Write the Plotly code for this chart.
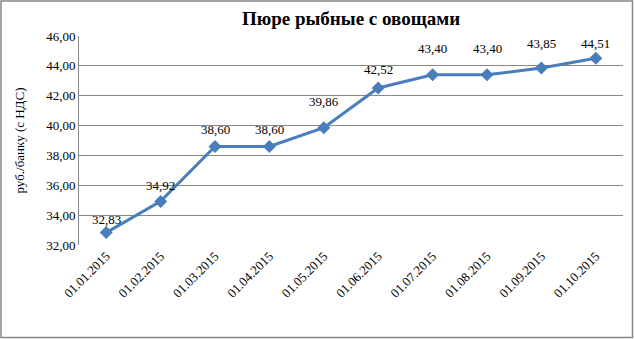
import plotly.graph_objects as go

dates = ["01.01.2015", "01.02.2015", "01.03.2015", "01.04.2015", "01.05.2015",
         "01.06.2015", "01.07.2015", "01.08.2015", "01.09.2015", "01.10.2015"]
prices = [32.83, 34.92, 38.60, 38.60, 39.86, 42.52, 43.40, 43.40, 43.85, 44.51]
y_ticks = [32, 34, 36, 38, 40, 42, 44, 46]

# vertical offset (px) of each data label above its point, as placed in the original
label_shift = [13, 16, 17, 17, 26, 18, 26, 26, 25, 15]

labels = [f"{v:.2f}".replace(".", ",") for v in prices]

fig = go.Figure()
fig.add_trace(go.Scatter(
    x=dates, y=prices, mode="lines+markers",
    line=dict(color="#4A7EBB", width=3),
    marker=dict(symbol="diamond", size=10, color="#4A7EBB"),
    cliponaxis=False,
))

for d, v, t, s in zip(dates, prices, labels, label_shift):
    fig.add_annotation(x=d, y=v, text=t, showarrow=False, yshift=s,
                       font=dict(family="Liberation Serif", size=13, color="black"))

L, R, T, B = 79, 11, 36, 94
W, H = 634, 339
pw, ph = W - L - R, H - T - B

fig.update_layout(
    width=W, height=H,
    margin=dict(l=L, r=R, t=T, b=B),
    paper_bgcolor="white", plot_bgcolor="white",
    showlegend=False,
    font=dict(family="Liberation Serif", size=13, color="black"),
    title=dict(text="<b>Пюре рыбные с овощами</b>", x=(L + pw / 2) / W, xanchor="center",
               y=1 - 18 / H, yanchor="middle",
               font=dict(family="Liberation Serif", size=19, color="black")),
    xaxis=dict(type="category", range=[-0.5, 9.5], tickangle=-45, showgrid=False,
               showline=False, ticks="", tickfont=dict(size=13)),
    yaxis=dict(range=[32, 46], tickvals=y_ticks,
               ticktext=[f"{v:.2f}".replace(".", ",") for v in y_ticks],
               showgrid=True, gridcolor="#878787", gridwidth=1,
               showline=True, linecolor="#878787", linewidth=1,
               zeroline=False, ticks="", ticklen=0,
               title=dict(text="руб./банку (с НДС)", font=dict(size=13), standoff=18),
               tickfont=dict(size=13)),
    shapes=[dict(type="rect", xref="paper", yref="paper",
                 x0=(1 - L) / pw, x1=(W - 1.5 - L) / pw,
                 y0=-(H - 1.5 - T - ph) / ph,
                 y1=(T + ph - 1) / ph,
                 line=dict(color="#878787", width=1.5))],
)

fig.write_html("out.html")
